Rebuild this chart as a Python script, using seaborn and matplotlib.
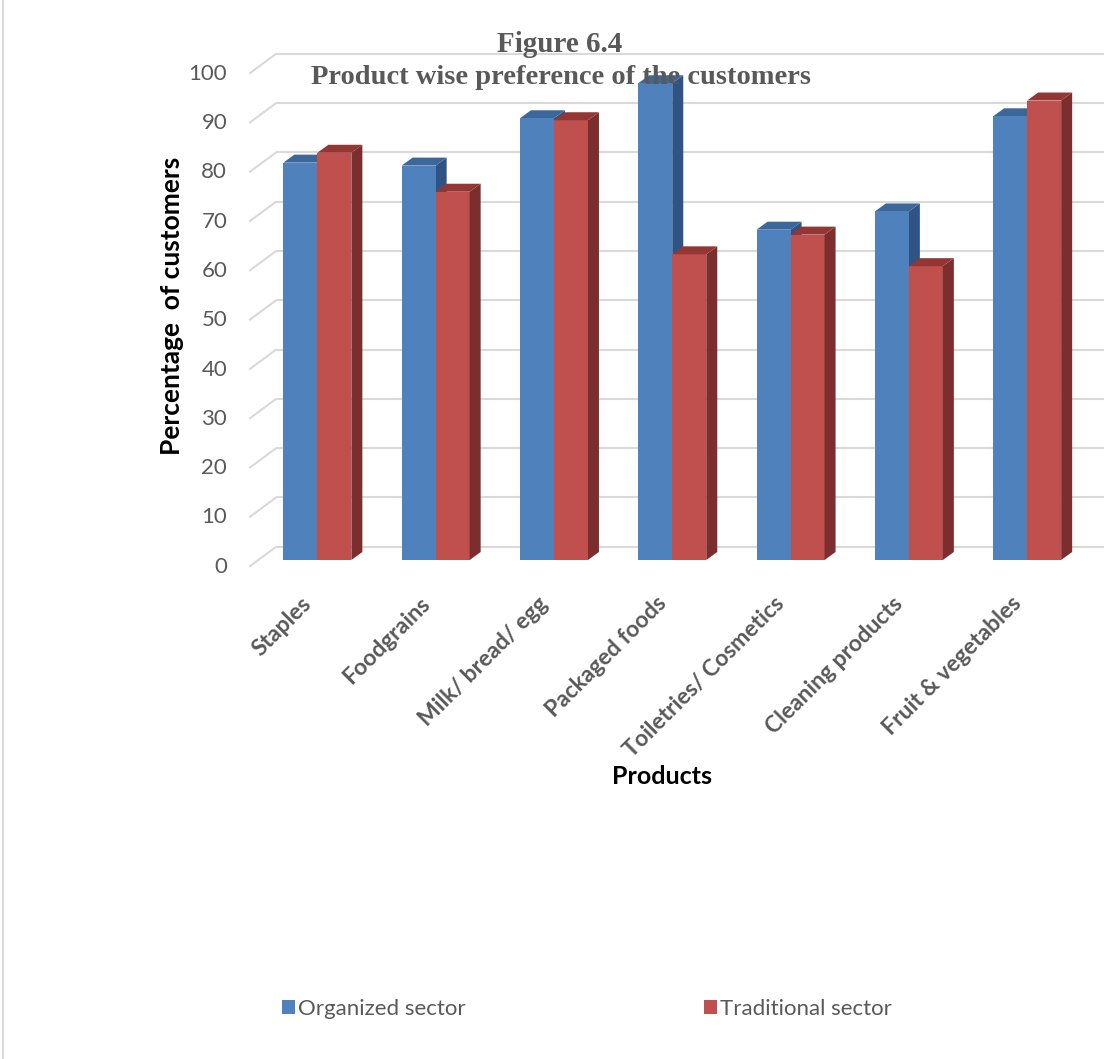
import matplotlib
matplotlib.use("Agg")
import matplotlib.pyplot as plt
from matplotlib.patches import Polygon
from matplotlib.lines import Line2D
from matplotlib.transforms import ScaledTranslation
import seaborn as sns
import pandas as pd

# ---- data ----
products = ["Staples", "Foodgrains", "Milk/ bread/ egg", "Packaged foods",
            "Toiletries/ Cosmetics", "Cleaning products", "Fruit & vegetables"]
organized = [80.6, 80, 89.6, 96.7, 67, 70.7, 90]
traditional = [82.6, 74.7, 89.2, 62, 66, 59.6, 93.2]
sectors = ["Organized sector", "Traditional sector"]
y_ticks = list(range(0, 101, 10))

df = pd.DataFrame({
    "Product": products * 2,
    "Percent": organized + traditional,
    "Sector": [sectors[0]] * len(products) + [sectors[1]] * len(products),
})

# ---- style ----
sns.set_theme(style="white")
plt.rcParams["font.family"] = ["Lato", "DejaVu Sans"]

front = ["#4F81BD", "#C0504D"]
top = ["#3C679B", "#943634"]
side = ["#2F5384", "#7B2E2D"]
grid_c = "#D9D9D9"
text_c = "#595959"

W, H, DPI = 1118, 1059, 100
fig = plt.figure(figsize=(W / DPI, H / DPI), dpi=DPI)

# axes in pixel terms (front plane of the columns)
ax_l, ax_r, ax_b, ax_t = 258.2, 1086.3, 560.0, 67.0
ax = fig.add_axes([ax_l / W, (H - ax_b) / H, (ax_r - ax_l) / W, (ax_b - ax_t) / H])
ax.set_xlim(-0.5, 6.5)
ax.set_ylim(0, 100)

px_x = 7.0 / (ax_r - ax_l)      # data units per pixel (x)
px_y = 100.0 / (ax_b - ax_t)    # data units per pixel (y)

sns.barplot(data=df, x="Product", y="Percent", hue="Sector", palette=front,
            width=0.575, saturation=1, linewidth=0, ax=ax, legend=False)

# 3-D look: depth faces on each column
bdx, bdy = 11 * px_x, 8 * px_y
for i, cont in enumerate(ax.containers):
    for bar in cont:
        x0, w, h = bar.get_x(), bar.get_width(), bar.get_height()
        bar.set_zorder(2.2 if i == 0 else 3)
        zf = 2.0 if i == 0 else 3.5
        ax.add_patch(Polygon([(x0 + w, 0), (x0 + w + bdx, bdy), (x0 + w + bdx, h + bdy), (x0 + w, h)],
                             closed=True, facecolor=side[i], edgecolor="none", zorder=zf))
        ax.add_patch(Polygon([(x0, h), (x0 + bdx, h + bdy), (x0 + w + bdx, h + bdy), (x0 + w, h)],
                             closed=True, facecolor=top[i], edgecolor="none", zorder=zf))

# back wall gridlines and slanted side-wall lines
gdx_b, gdy_b = 18 * px_x, 13.3 * px_y
gdx_f, gdy_f = -9 * px_x, -6.7 * px_y
for v in y_ticks:
    ax.plot([-0.5 + gdx_b, 6.5 + gdx_b], [v + gdy_b, v + gdy_b], color=grid_c,
            lw=1.5, zorder=0.5, clip_on=False, solid_capstyle="butt")
    ax.plot([-0.5 + gdx_f, -0.5 + gdx_b], [v + gdy_f, v + gdy_b], color=grid_c,
            lw=1.5, zorder=0.5, clip_on=False, solid_capstyle="butt")
    ax.text(-0.5 - 31 * px_x, v + gdy_f, str(v), ha="right", va="center",
            fontsize=16, color=text_c)

for s in ax.spines.values():
    s.set_visible(False)
ax.set_yticks([])
ax.set_ylabel("")
ax.set_xlabel("")
ax.set_xticks(range(len(products)))
ax.set_xticklabels(products, rotation=45, ha="right", va="center",
                   rotation_mode="anchor", fontsize=16.5, fontweight="bold", color=text_c)
ax.tick_params(axis="x", length=0, pad=29)
shift = ScaledTranslation(-9 / DPI, 0, fig.dpi_scale_trans)
for lbl in ax.get_xticklabels():
    lbl.set_transform(lbl.get_transform() + shift)
ax.patch.set_alpha(0)

# titles and axis titles
fig.text(560 / W, 1 - 45 / H, "Figure 6.4", ha="center", va="center",
         family="Liberation Serif", fontweight="bold", fontsize=21, color=text_c, zorder=10)
fig.text(561 / W, 1 - 78 / H, "Product wise preference of the customers", ha="center",
         va="center", family="Liberation Serif", fontweight="bold", fontsize=20.5,
         color=text_c, zorder=10)
fig.text(172 / W, 1 - 306 / H, "Percentage  of customers", rotation=90, ha="center",
         va="center", fontsize=19, fontweight="bold", color="black")
fig.text(662 / W, 1 - 777 / H, "Products", ha="center", va="center",
         fontsize=18, fontweight="bold", color="black")

# legend
handles = [plt.Rectangle((0, 0), 1, 1, facecolor=c, edgecolor="none") for c in front]
fig.legend(handles, sectors, loc="center", bbox_to_anchor=(587 / W, 1 - 1009 / H),
           ncol=2, frameon=False, fontsize=16, labelcolor=text_c,
           handlelength=0.58, handleheight=0.62, handletextpad=0.12, columnspacing=10.75)

# chart border
fig.add_artist(Line2D([3 / W, 3 / W], [0, 1], color=grid_c, lw=1.5))

fig.savefig("out.png", dpi=DPI, facecolor="white")
